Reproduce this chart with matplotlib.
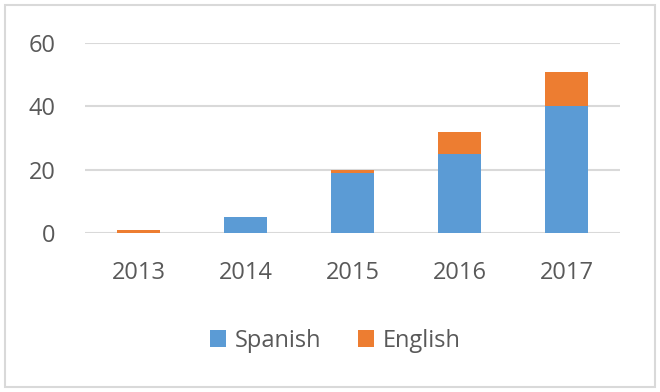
import matplotlib
matplotlib.use("Agg")
import matplotlib.pyplot as plt
from matplotlib.patches import Rectangle
import numpy as np

years = ["2013", "2014", "2015", "2016", "2017"]
spanish = [0, 5, 19, 25, 40]
english = [1, 0, 1, 7, 11]
yticks = [0, 20, 40, 60]

plt.rcParams['font.family'] = ['Open Sans', 'DejaVu Sans']
text_color = "#595959"

fig = plt.figure(figsize=(6.6, 3.92), dpi=100)
ax = fig.add_axes([85/660, 1-233/392, 535/660, 190/392])

x = np.arange(len(years))
w = 0.4
ax.bar(x, spanish, w, color="#5B9BD5", label="Spanish", zorder=3)
ax.bar(x, english, w, bottom=spanish, color="#ED7D31", label="English", zorder=3)

ax.set_xlim(-0.5, len(years) - 0.5)
ax.set_ylim(0, 60)
ax.set_yticks(yticks)
ax.set_xticks(x)
ax.set_xticklabels(years)
ax.grid(axis="y", color="#D9D9D9", linewidth=1.5, zorder=0)
for s in ax.spines.values():
    s.set_visible(False)
ax.tick_params(length=0, labelsize=17, colors=text_color)
ax.tick_params(axis="x", pad=20)
ax.tick_params(axis="y", pad=21)

leg = ax.legend(loc="center", bbox_to_anchor=(335/660, 1-341/392), bbox_transform=fig.transFigure,
                ncol=2, frameon=False, fontsize=17, handlelength=0.7, handleheight=0.7,
                handletextpad=0.35, columnspacing=1.55)
for t in leg.get_texts():
    t.set_color(text_color)

fig.patches.append(Rectangle((5/660, 5/392), 650/660, 382/392, transform=fig.transFigure,
                             fill=False, edgecolor="#D9D9D9", linewidth=1.5))

fig.savefig("out.png", dpi=100)
